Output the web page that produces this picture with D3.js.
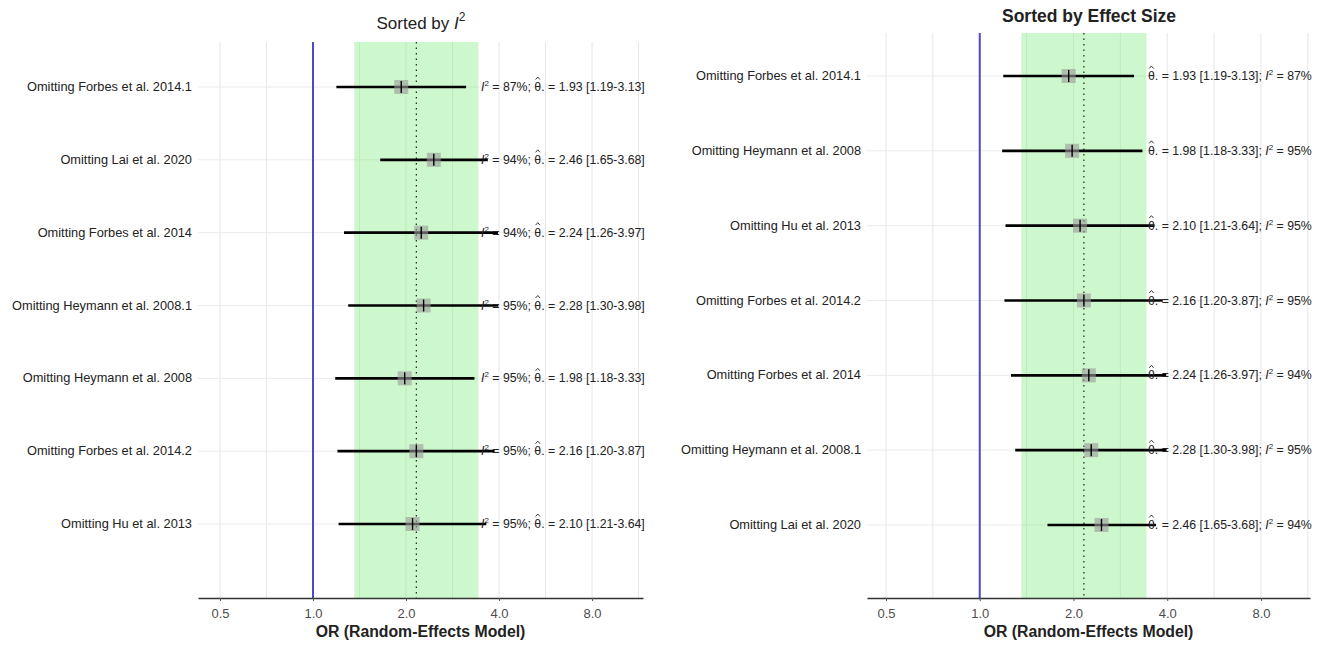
<!DOCTYPE html>
<html><head><meta charset="utf-8">
<script src="https://cdn.jsdelivr.net/npm/d3@7"></script>
<style>
body{margin:0;background:#fff;}
text{font-family:"Liberation Sans",Arial,sans-serif;}
</style></head>
<body><svg id="chart" width="1327" height="646"></svg>
<script>
// ---- data ----
const studies = ["Omitting Forbes et al. 2014.1","Omitting Lai et al. 2020","Omitting Forbes et al. 2014",
  "Omitting Heymann et al. 2008.1","Omitting Heymann et al. 2008","Omitting Forbes et al. 2014.2","Omitting Hu et al. 2013"];
const estimates = [1.93, 2.46, 2.24, 2.28, 1.98, 2.16, 2.10];
const lowerCI   = [1.19, 1.65, 1.26, 1.30, 1.18, 1.20, 1.21];
const upperCI   = [3.13, 3.68, 3.97, 3.98, 3.33, 3.87, 3.64];
const i2Values  = [87, 94, 94, 95, 95, 95, 95];
const orderByI2 = ["Omitting Forbes et al. 2014.1","Omitting Lai et al. 2020","Omitting Forbes et al. 2014",
  "Omitting Heymann et al. 2008.1","Omitting Heymann et al. 2008","Omitting Forbes et al. 2014.2","Omitting Hu et al. 2013"];
const orderByEffect = ["Omitting Forbes et al. 2014.1","Omitting Heymann et al. 2008","Omitting Hu et al. 2013",
  "Omitting Forbes et al. 2014.2","Omitting Forbes et al. 2014","Omitting Heymann et al. 2008.1","Omitting Lai et al. 2020"];
const pooledEst = 2.16;
const pooledLower = 1.36;
const pooledUpper = 3.43;
const tickValues = [0.5, 1, 2, 4, 8];
const tickLabels = ["0.5", "1.0", "2.0", "4.0", "8.0"];
const minorTicks = [Math.SQRT1_2, Math.SQRT2, 2*Math.SQRT2, 4*Math.SQRT2, 8*Math.SQRT2];

const rows = studies.map((s,i)=>({study:s, est:estimates[i], lo:lowerCI[i], hi:upperCI[i], i2:i2Values[i]}));
const svg = d3.select("#chart");

function panel(cfg){
  const g = svg.append("g");
  const x = d3.scaleLog().base(2).domain(cfg.domain).range([cfg.left, cfg.right]);
  const y = d3.scalePoint().domain(cfg.order).range([cfg.firstRow, cfg.lastRow]);
  const data = cfg.order.map(s => rows.find(r => r.study === s));
  // vertical grid
  g.selectAll(".vg").data(tickValues.concat(minorTicks)).join("line")
    .attr("x1", d=>x(d)).attr("x2", d=>x(d)).attr("y1", cfg.top).attr("y2", cfg.bottom)
    .attr("stroke", "#e6e6e6").attr("stroke-width", 1);
  // horizontal grid
  g.selectAll(".hg").data(cfg.order).join("line")
    .attr("x1", cfg.left).attr("x2", cfg.right).attr("y1", d=>y(d)).attr("y2", d=>y(d))
    .attr("stroke", "#ebebeb").attr("stroke-width", 1);
  // band
  g.append("rect").attr("x", x(pooledLower)).attr("width", x(pooledUpper)-x(pooledLower))
    .attr("y", cfg.top).attr("height", cfg.bottom-cfg.top)
    .attr("fill", "#90ee90").attr("opacity", 0.45);
  // reference line at 1
  g.append("line").attr("x1", x(1)).attr("x2", x(1)).attr("y1", cfg.top).attr("y2", cfg.bottom)
    .attr("stroke", "#4f46c8").attr("stroke-width", 2);
  // pooled dotted
  g.append("line").attr("x1", x(pooledEst)).attr("x2", x(pooledEst)).attr("y1", cfg.top).attr("y2", cfg.bottom)
    .attr("stroke", "#222").attr("stroke-width", 1.2).attr("stroke-dasharray", "1.5,4");
  // CI lines
  g.selectAll(".ci").data(data).join("line")
    .attr("x1", d=>x(d.lo)).attr("x2", d=>x(d.hi)).attr("y1", d=>y(d.study)).attr("y2", d=>y(d.study))
    .attr("stroke", "#000").attr("stroke-width", 2.6);
  // squares
  g.selectAll(".sq").data(data).join("rect")
    .attr("x", d=>x(d.est)-7).attr("y", d=>y(d.study)-7).attr("width", 14).attr("height", 14)
    .attr("fill", "#9a9a9a").attr("opacity", 0.6);
  g.selectAll(".tk").data(data).join("line")
    .attr("x1", d=>x(d.est)).attr("x2", d=>x(d.est)).attr("y1", d=>y(d.study)-6).attr("y2", d=>y(d.study)+6)
    .attr("stroke", "#000").attr("stroke-width", 1.4);
  // annotation text
  data.forEach(d=>{
    const by = y(d.study)+4;
    const t = g.append("text").attr("x", cfg.annX).attr("y", by)
      .attr("font-size", 12.3).attr("fill", "#222");
    const hats = [];
    const eff = () => {
      const th = t.append("tspan").text("θ");
      hats.push(th);
      t.append("tspan").text(". = " + d.est.toFixed(2) + " [" + d.lo.toFixed(2) + "-" + d.hi.toFixed(2) + "]");
    };
    const het = () => {
      t.append("tspan").attr("font-style","italic").text("I");
      t.append("tspan").attr("font-size", 8).attr("dy", -5).text("2");
      t.append("tspan").attr("dy", 5).text(" = " + d.i2 + "%");
    };
    if (cfg.i2First){ het(); t.append("tspan").text("; "); eff(); }
    else { eff(); t.append("tspan").text("; "); het(); }
    // circumflex over theta drawn as a small path
    hats.forEach(th => {
      const node = th.node();
      let cx;
      try {
        const s = node.getStartPositionOfChar(0), e = node.getEndPositionOfChar(0);
        cx = (s.x + e.x)/2;
      } catch(err) { cx = cfg.annX + 3; }
      g.append("path").attr("d", `M${cx-2.2},${by-11.5} L${cx},${by-14} L${cx+2.2},${by-11.5}`)
        .attr("fill", "none").attr("stroke", "#222").attr("stroke-width", 0.9);
    });
  });
  // y labels
  g.selectAll(".yl").data(cfg.order).join("text")
    .attr("x", cfg.left-6).attr("y", d=>y(d)+4).attr("text-anchor","end")
    .attr("font-size", 12.8).attr("fill", "#222").text(d=>d);
  // x axis
  const ax = g.append("g").attr("transform", `translate(0,${cfg.bottom})`)
    .call(d3.axisBottom(x).tickValues(tickValues).tickFormat((d,i)=>tickLabels[i]).tickSize(3).tickSizeOuter(0));
  ax.select(".domain").attr("stroke", "#333").attr("stroke-width", 1.5);
  ax.selectAll(".tick line").attr("stroke", "#555");
  ax.selectAll(".tick text").attr("font-size", 13).attr("fill", "#4d4d4d")
    .attr("font-family", "Liberation Sans, Arial, sans-serif").attr("dy", "1.05em");
  g.append("text").attr("x", (cfg.left+cfg.right)/2).attr("y", 637).attr("text-anchor","middle")
    .attr("font-size", 15.8).attr("font-weight","bold").attr("fill","#222").text("OR (Random-Effects Model)");
  // title
  const tt = g.append("text").attr("x", cfg.titleX).attr("y", cfg.titleY).attr("text-anchor","middle")
    .attr("font-size", 17).attr("fill", "#222");
  if (cfg.i2First){
    tt.append("tspan").text("Sorted by ");
    tt.append("tspan").attr("font-style","italic").text("I");
    tt.append("tspan").attr("font-size", 12).attr("dy", -8).text("2");
  } else {
    tt.attr("font-weight","bold").attr("font-size", 17.5).text("Sorted by Effect Size");
  }
}

panel({left:198, right:643, domain:[Math.pow(2,-1.2366), Math.pow(2,3.548)], top:42, bottom:598,
  firstRow:87, lastRow:524, order:orderByI2, annX:481, i2First:true, titleX:421, titleY:29});
panel({left:867, right:1310, domain:[Math.pow(2,-1.2027), Math.pow(2,3.523)], top:33, bottom:598,
  firstRow:76, lastRow:525, order:orderByEffect, annX:1148, i2First:false, titleX:1089, titleY:22});
</script></body></html>
